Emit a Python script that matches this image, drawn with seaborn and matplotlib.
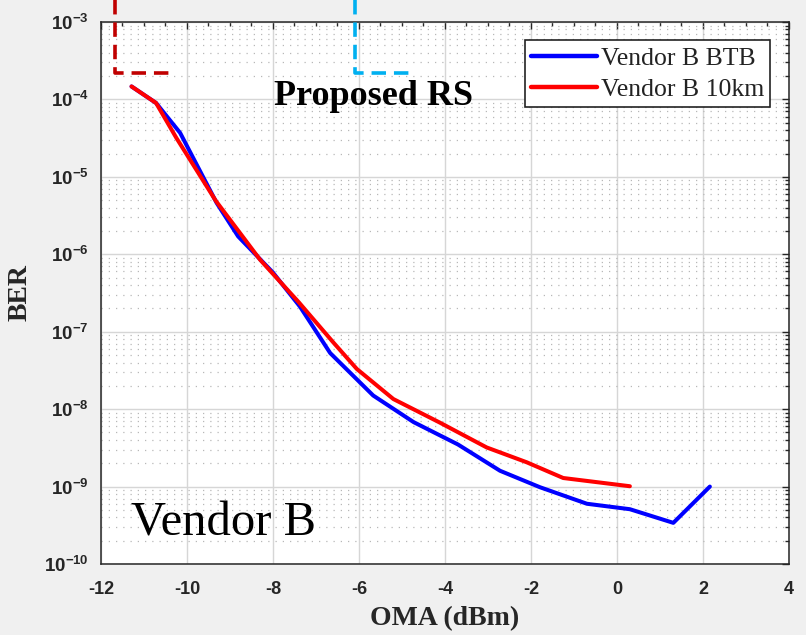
import matplotlib
matplotlib.use("Agg")
import matplotlib.pyplot as plt
import numpy as np
import pandas as pd
import seaborn as sns
from matplotlib.ticker import MultipleLocator, LogLocator, NullFormatter

# Measured BER versus received OMA
btb_oma = [-11.29, -10.72, -10.16, -9.31, -8.81, -8.00, -7.37, -6.67, -5.67,
           -4.73, -3.70, -2.72, -1.79, -0.70, 0.30, 1.31, 2.16]
btb_ber = [1.47e-4, 9.0e-5, 3.7e-5, 4.6e-6, 1.7e-6, 5.8e-7, 2.1e-7, 5.3e-8, 1.5e-8,
           6.8e-9, 3.5e-9, 1.6e-9, 9.8e-10, 6.0e-10, 5.1e-10, 3.4e-10, 1.0e-9]
km10_oma = [-11.29, -10.72, -10.25, -9.33, -8.30, -7.40, -6.60, -6.05, -5.20,
            -4.12, -3.03, -2.10, -1.25, 0.30]
km10_ber = [1.47e-4, 9.0e-5, 3.2e-5, 4.9e-6, 8.5e-7, 2.4e-7, 7.3e-8, 3.3e-8, 1.35e-8,
            6.7e-9, 3.2e-9, 2.06e-9, 1.29e-9, 1.01e-9]
series_names = ["Vendor B BTB", "Vendor B 10km"]

# FEC threshold markers (sensitivity corners)
rs_ber = 2.2e-4
rs_top = 1.95e-3
rs_red_x = [-11.67, -10.35]
rs_cyan_x = [-6.09, -4.81]

x_ticks = [-12, -10, -8, -6, -4, -2, 0, 2, 4]
y_exponents = [-10, -9, -8, -7, -6, -5, -4, -3]

df = pd.concat([
    pd.DataFrame({"OMA": btb_oma, "BER": btb_ber, "Link": series_names[0]}),
    pd.DataFrame({"OMA": km10_oma, "BER": km10_ber, "Link": series_names[1]}),
], ignore_index=True)

sns.set_theme(style="white")
plt.rcParams["mathtext.fontset"] = "custom"
plt.rcParams["mathtext.rm"] = "Liberation Sans"
plt.rcParams["mathtext.bf"] = "Liberation Sans:bold"

ink = "#262626"
fig = plt.figure(figsize=(8.06, 6.35), dpi=100, facecolor="#f0f0f0")
ax = fig.add_axes([0.1253, 0.1118, 0.8536, 0.8536])
ax.set_facecolor("white")

sns.lineplot(data=df, x="OMA", y="BER", hue="Link", hue_order=series_names,
             palette={series_names[0]: "#0000ff", series_names[1]: "#ff0000"},
             sort=False, estimator=None, linewidth=2.9, ax=ax, zorder=5)

ax.set_yscale("log")
ax.set_xlim(-12, 4)
ax.set_ylim(1e-10, 1e-3)

# threshold corners, running past the top of the axes
ax.plot([rs_red_x[0], rs_red_x[0], rs_red_x[1]], [rs_top, rs_ber, rs_ber],
        color="#c00000", linewidth=2.6, linestyle=(0, (4, 2.2)), clip_on=False, zorder=6)
ax.plot([rs_cyan_x[0], rs_cyan_x[0], rs_cyan_x[1]], [rs_top, rs_ber, rs_ber],
        color="#00b0f0", linewidth=2.6, linestyle=(0, (4, 2.2)), clip_on=False, zorder=6)

# grid: solid majors, dotted minor decades
ax.grid(True, which="major", color="#d6d6d6", linewidth=1.0, linestyle="-")
ax.yaxis.grid(True, which="minor", color="#b8b8b8", linewidth=0.9, linestyle=(0, (1, 4.8)))
ax.set_axisbelow(True)

ax.xaxis.set_minor_locator(MultipleLocator(0.5))
ax.yaxis.set_minor_locator(LogLocator(base=10, subs=np.arange(2, 10), numticks=30))
ax.yaxis.set_minor_formatter(NullFormatter())

ax.set_xticks(x_ticks)
ax.set_xticklabels([str(v) for v in x_ticks], fontfamily="Liberation Sans",
                   fontweight="bold", fontsize=13, color=ink)
ax.set_yticks([10.0 ** e for e in y_exponents])
ax.set_yticklabels([rf"$\mathbf{{10^{{{e}}}}}$" for e in y_exponents],
                   fontsize=13.5, color=ink)

ax.tick_params(which="both", direction="in", top=True, right=True, color=ink, width=1.0)
ax.tick_params(which="major", length=5)
ax.tick_params(which="minor", length=2.8)
ax.tick_params(axis="x", which="major", pad=12)
ax.tick_params(axis="y", which="major", pad=9)

for sp in ax.spines.values():
    sp.set_color(ink)
    sp.set_linewidth(1.1)
    sp.set_visible(True)

ax.set_xlabel("OMA (dBm)", fontfamily="Liberation Serif", fontweight="bold",
              fontsize=20, color=ink, labelpad=6)
ax.set_ylabel("BER", fontfamily="Liberation Serif", fontweight="bold",
              fontsize=20, color=ink, labelpad=8)

ax.text(-5.66, 8.5e-5, "Proposed RS", fontfamily="Liberation Serif", fontweight="bold",
        fontsize=26, color="black", ha="center", va="baseline", zorder=7)
ax.text(-9.15, 2.3e-10, "Vendor B", fontfamily="Liberation Serif",
        fontsize=35, color="black", ha="center", va="baseline", zorder=7)

leg = ax.legend(loc="upper right", frameon=True, fancybox=False, edgecolor="#222222",
                prop={"family": "Liberation Serif", "size": 18.5},
                handlelength=2.55, handletextpad=0.15, borderpad=0.25,
                labelspacing=0.3, borderaxespad=0.72, framealpha=1.0)
leg.get_frame().set_linewidth(1.2)
for t in leg.get_texts():
    t.set_color("#222222")
for h in leg.get_lines():
    h.set_linewidth(3.2)

fig.savefig("out.png", dpi=100, facecolor=fig.get_facecolor())
